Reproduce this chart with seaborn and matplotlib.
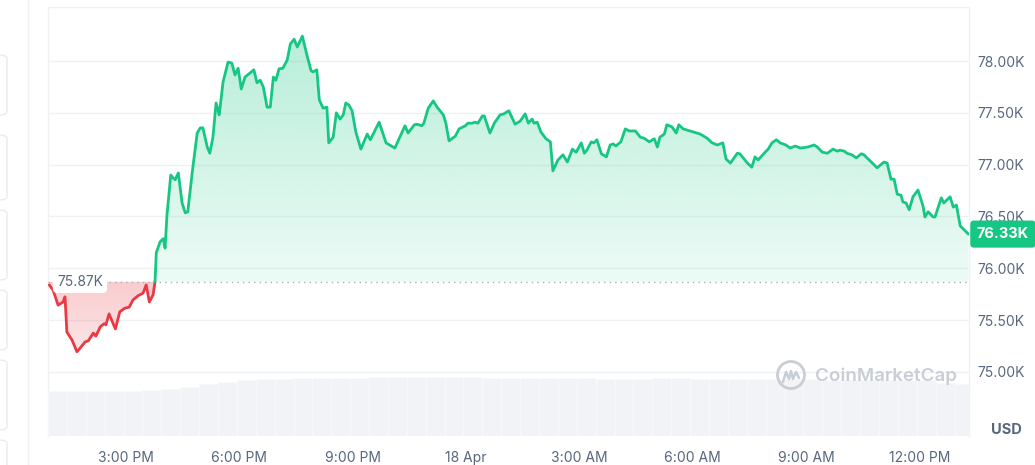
import numpy as np
import pandas as pd
import seaborn as sns
import matplotlib.pyplot as plt
from matplotlib.patches import PathPatch, FancyBboxPatch, Ellipse
from matplotlib.lines import Line2D
from matplotlib.path import Path
from matplotlib.transforms import blended_transform_factory

# minutes after 12:00 PM (17 Apr) and price in USD
minutes = [58, 64, 72, 80, 83, 86, 94, 102, 107, 115, 120, 128, 132, 139, 145, 148, 153, 163,
           170, 178, 185, 191, 199, 207, 212, 217, 223, 226, 228, 234, 239, 242, 245, 251, 255,
           258, 263, 269, 274, 278, 285, 293, 298, 302, 309, 313, 318, 323, 328, 334, 342, 348,
           353, 358, 363, 369, 377, 383, 388, 393, 398, 404, 409, 414, 418, 423, 429, 436, 441,
           447, 452, 460, 468, 474, 477, 483, 487, 493, 499, 502, 509, 514, 520, 525, 529, 534,
           539, 545, 553, 563, 568, 582, 593, 607, 617, 623, 628, 638, 642, 650, 653, 660, 668,
           674, 684, 688, 693, 703, 709, 719, 723, 730, 734, 739, 746, 749, 758, 765, 774, 780,
           788, 798, 806, 814, 819, 825, 828, 833, 839, 847, 854, 858, 866, 874, 881, 889, 895,
           903, 908, 912, 919, 923, 928, 935, 943, 949, 954, 958, 966, 973, 979, 989, 997, 1003,
           1011, 1019, 1024, 1028, 1035, 1039, 1047, 1054, 1058, 1065, 1081, 1092, 1103, 1111,
           1119, 1128, 1133, 1140, 1151, 1155, 1167, 1174, 1179, 1184, 1195, 1200, 1206, 1213,
           1219, 1228, 1235, 1243, 1251, 1263, 1273, 1278, 1286, 1294, 1303, 1310, 1314, 1321,
           1325, 1333, 1340, 1348, 1352, 1362, 1373, 1384, 1389, 1395, 1400, 1405, 1411, 1414,
           1419, 1424, 1430, 1438, 1446, 1449, 1454, 1462, 1465, 1475, 1479, 1489, 1494, 1499,
           1505, 1518]
prices = [75840, 75790, 75645, 75675, 75725, 75385, 75310, 75195, 75230, 75290, 75300, 75375,
          75345, 75435, 75465, 75455, 75560, 75415, 75580, 75615, 75625, 75695, 75735, 75760,
          75840, 75675, 75745, 75870, 76150, 76255, 76285, 76195, 76515, 76900, 76870, 76855,
          76920, 76630, 76535, 76545, 76920, 77305, 77355, 77355, 77170, 77110, 77265, 77595,
          77480, 77795, 77990, 77980, 77865, 77930, 77730, 77845, 77885, 77915, 77790, 77815,
          77750, 77555, 77555, 77845, 77815, 77925, 77930, 78010, 78165, 78210, 78135, 78240,
          78040, 77905, 77895, 77915, 77625, 77545, 77555, 77210, 77265, 77500, 77440, 77480,
          77595, 77575, 77520, 77315, 77150, 77295, 77240, 77410, 77210, 77160, 77295, 77375,
          77305, 77385, 77390, 77375, 77400, 77545, 77615, 77555, 77480, 77400, 77230, 77275,
          77345, 77375, 77400, 77400, 77410, 77400, 77470, 77470, 77305, 77400, 77480, 77490,
          77520, 77390, 77420, 77490, 77400, 77440, 77400, 77410, 77315, 77250, 77220, 76940,
          77045, 77095, 77025, 77150, 77120, 77210, 77110, 77140, 77220, 77210, 77240, 77105,
          77075, 77190, 77200, 77180, 77220, 77345, 77325, 77325, 77265, 77255, 77220, 77250,
          77170, 77265, 77295, 77385, 77365, 77305, 77385, 77345, 77315, 77295, 77255, 77210,
          77190, 77210, 77055, 77015, 77110, 77105, 77015, 76975, 77075, 77045, 77120, 77150,
          77210, 77240, 77210, 77190, 77160, 77180, 77160, 77170, 77190, 77170, 77120, 77110,
          77150, 77130, 77140, 77130, 77110, 77095, 77065, 77105, 77095, 77035, 76970, 77025,
          77015, 76860, 76860, 76715, 76705, 76640, 76630, 76565, 76690, 76755, 76600, 76495,
          76545, 76495, 76495, 76680, 76630, 76690, 76590, 76610, 76410, 76330]

base_price = 75870
last_price = 76330

# volume bars, one per 30 minutes (relative size)
vol_start = [56 + 30 * i for i in range(49)]
vol_values = [4.5, 4.5, 4.5, 4.5, 4.5, 4.6, 4.7, 4.9, 5.2, 5.4, 5.6, 5.7, 5.7, 5.8, 5.8, 5.8,
              5.8, 5.9, 5.9, 5.9, 5.9, 5.9, 5.9, 5.8, 5.8, 5.8, 5.8, 5.8, 5.8, 5.7, 5.7, 5.7,
              5.8, 5.8, 5.7, 5.7, 5.7, 5.7, 5.7, 5.7, 5.7, 5.6, 5.6, 5.6, 5.6, 5.6, 5.6, 5.3,
              5.2]

tick_minutes = [180, 360, 540, 720, 900, 1080, 1260, 1440]
tick_labels = ["3:00 PM", "6:00 PM", "9:00 PM", "18 Apr", "3:00 AM", "6:00 AM", "9:00 AM",
               "12:00 PM"]
price_ticks = [75000, 75500, 76000, 76500, 77000, 77500, 78000]

GREEN = "#16c784"
RED = "#ea3943"
GREY = "#58667e"
LINE = "#eff2f5"

sns.set_theme(style="white")
plt.rcParams['font.family'] = ['Inter', 'DejaVu Sans']

fig = plt.figure(figsize=(10.35, 4.65), dpi=100)
ax = fig.add_axes([48 / 1035, 29 / 465, 921 / 1035, 429 / 465])
xlim = (56, 1519)
ylim = (74382, 78521)

df = pd.DataFrame({"minute": minutes, "price": prices})
cross = minutes.index(226)
p = np.array(prices)
m = np.array(minutes)

# gradient fills clipped to the area between the line and the open price
def gradient_fill(where, c, a_lo, a_hi, y0, y1):
    coll = ax.fill_between(m, p, base_price, where=where, interpolate=True,
                           facecolor="none", edgecolor="none")
    path = Path.make_compound_path(*coll.get_paths())
    patch = PathPatch(path, transform=ax.transData, facecolor="none", edgecolor="none")
    ax.add_patch(patch)
    rgb = plt.matplotlib.colors.to_rgb(c)
    grad = np.zeros((256, 1, 4))
    grad[:, 0, :3] = rgb
    grad[:, 0, 3] = np.linspace(a_lo, a_hi, 256)
    im = ax.imshow(grad, extent=[xlim[0], xlim[1], y0, y1], origin="lower",
                   aspect="auto", zorder=1)
    im.set_clip_path(patch)

gradient_fill(p >= base_price, GREEN, 0.08, 0.33, base_price, ylim[1])
gradient_fill(p <= base_price, RED, 0.12, 0.26, 75150, base_price)

sns.lineplot(data=df.iloc[:cross + 1], x="minute", y="price", color=RED, lw=2.0,
             estimator=None, sort=False, ax=ax, zorder=4)
sns.lineplot(data=df.iloc[cross:], x="minute", y="price", color=GREEN, lw=2.0,
             estimator=None, sort=False, ax=ax, zorder=4)

ax.axhline(base_price, color="#a6b0c3", ls=(0, (1, 3)), lw=1, zorder=3)

ax.set_xlim(*xlim)
ax.set_ylim(*ylim)
ax.set(xlabel="", ylabel="")
ax.set_xticks(tick_minutes, tick_labels)
ax.set_yticks(price_ticks, [f"{v / 1000:.2f}K" for v in price_ticks])
ax.yaxis.tick_right()
ax.tick_params(axis="both", length=0, labelsize=10, labelcolor=GREY)
ax.tick_params(axis="x", pad=11)
ax.tick_params(axis="y", pad=6)
ax.yaxis.grid(True, color=LINE, lw=1)
ax.set_axisbelow(True)
for side in ["left", "right", "top"]:
    ax.spines[side].set_color(LINE)
    ax.spines[side].set_linewidth(1)
ax.spines["bottom"].set_visible(False)

# volume strip at the bottom
vol_ax = ax.inset_axes([0, 0, 1, 0.14], sharex=ax)
vol_ax.bar(vol_start, vol_values, width=30, align="edge", color="#f1f3f6",
           edgecolor="#fafbfc", linewidth=0.4)
vol_ax.set_ylim(0, 6.0)
vol_ax.axis("off")

trans = blended_transform_factory(ax.transAxes, ax.transData)
ax.text(0.0098, base_price, f"{base_price / 1000:.2f}K", transform=trans, ha="left",
        va="center", fontsize=10, color=GREY, zorder=5,
        bbox=dict(boxstyle="round,pad=0.3,rounding_size=0.3", fc="white", ec="none"))
ax.text(1.0085, last_price, f"{last_price / 1000:.2f}K", transform=trans, ha="left",
        va="center", fontsize=10.5, color="white", weight="bold", zorder=6, clip_on=False,
        bbox=dict(boxstyle="round,pad=0.45,rounding_size=0.25", fc=GREEN, ec="none"))

fig.text(1006 / 1035, 1 - 430 / 465, "USD", ha="center", va="center", weight="bold",
         color=GREY, fontsize=10.5)

# watermark
wm = "#c9ced6"
fig.text(815 / 1035, 1 - 376 / 465, "CoinMarketCap", ha="left", va="center",
         fontsize=13.5, color=wm, weight="semibold")
fig.add_artist(Ellipse((791 / 1035, 1 - 375 / 465), 27 / 1035, 27 / 465, fill=False,
                       ec=wm, lw=2, transform=fig.transFigure))
wx = np.array([783, 786, 789, 791, 793, 796, 799]) / 1035
wy = 1 - np.array([382, 372, 379, 371, 379, 372, 378]) / 465
fig.add_artist(Line2D(wx, wy, color=wm, lw=1.8, transform=fig.transFigure))

# page furniture on the left edge
fig.add_artist(Line2D([28 / 1035, 28 / 1035], [0, 1], color=LINE, lw=1,
                      transform=fig.transFigure))
for top, bot in [(55, 115), (135, 200), (210, 280), (290, 350), (360, 430), (440, 480)]:
    fig.add_artist(FancyBboxPatch((-12 / 1035, 1 - bot / 465), 19 / 1035, (bot - top) / 465,
                                  boxstyle="round,pad=0,rounding_size=0.008",
                                  transform=fig.transFigure, fc="none", ec="#e8ebef", lw=1))

fig.savefig("out.png", dpi=100)
